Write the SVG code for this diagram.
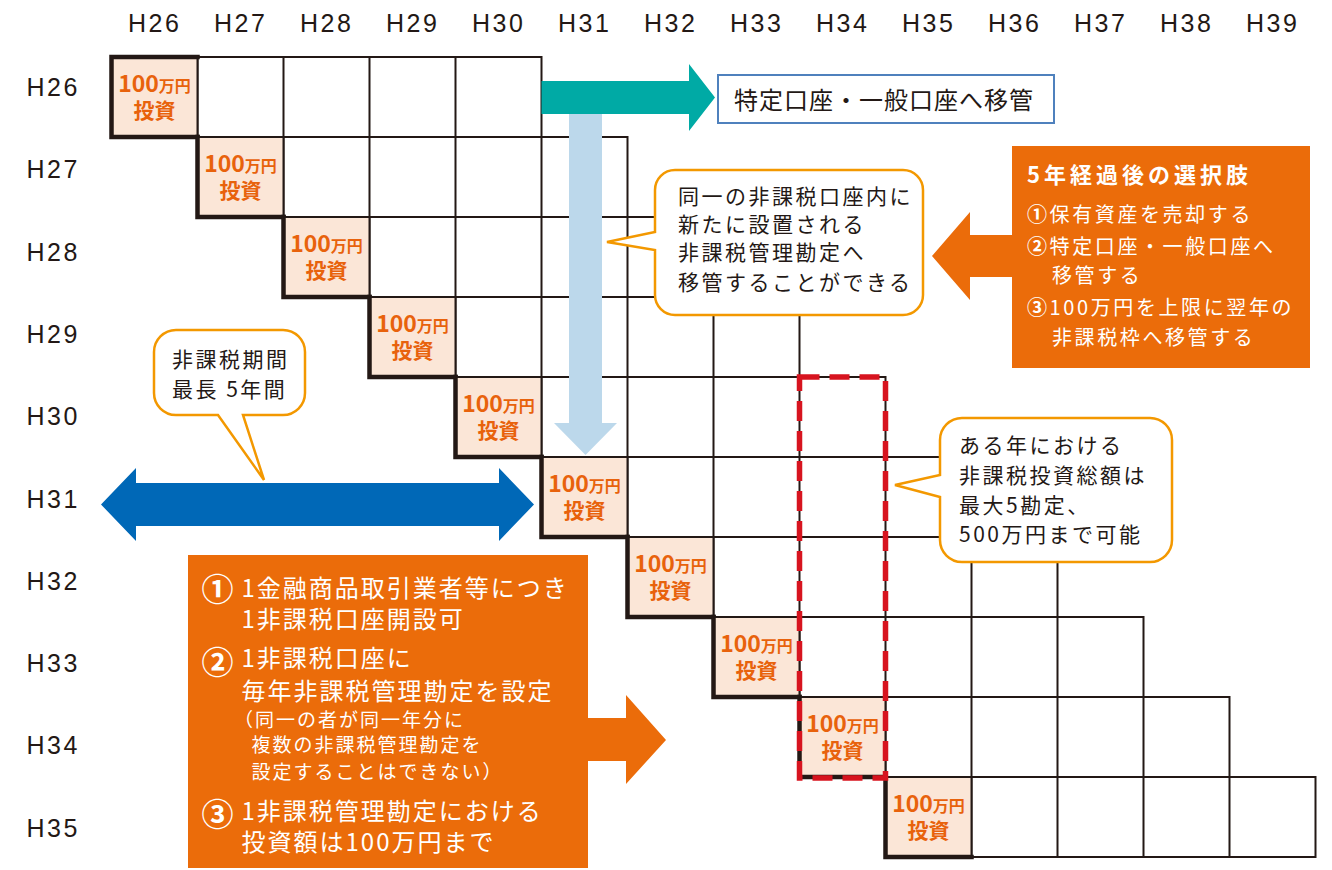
<svg xmlns="http://www.w3.org/2000/svg" width="1332" height="870" viewBox="0 0 1332 870">
<style>
.lbl{font-family:"Liberation Sans",Arial,sans-serif;font-size:25px;fill:#231815;letter-spacing:2.5px}
.row{fill:none;stroke:#231815;stroke-width:2}
.inv{fill:#fbe6d7;stroke:#231815;stroke-width:2}
.thick{fill:none;stroke:#231815;stroke-width:4.5;stroke-linecap:square}
.ct{font-family:"Noto Sans CJK JP","Noto Sans",sans-serif;font-weight:700;fill:#e8620c;text-anchor:middle}
.bub{fill:#fff;stroke:#f39800;stroke-width:2.5}
.bt{font-family:"Noto Sans CJK JP",sans-serif;font-size:21px;fill:#231815;letter-spacing:2.5px}
.wt{font-family:"Noto Sans CJK JP",sans-serif;fill:#fff}
.num{font-weight:700}
.org{fill:#eb6c0a}
</style>
<rect width="1332" height="870" fill="#fff"/>
<g id="col-labels" class="lbl">
<text x="128" y="32">H26</text><text x="214" y="32">H27</text><text x="300" y="32">H28</text><text x="386" y="32">H29</text><text x="472" y="32">H30</text><text x="558" y="32">H31</text><text x="644" y="32">H32</text><text x="730" y="32">H33</text><text x="816" y="32">H34</text><text x="902" y="32">H35</text><text x="988" y="32">H36</text><text x="1074" y="32">H37</text><text x="1160" y="32">H38</text><text x="1246" y="32">H39</text>
</g>
<g id="row-labels" class="lbl">
<text x="26.5" y="96">H26</text><text x="26.5" y="178">H27</text><text x="26.5" y="261">H28</text><text x="26.5" y="343">H29</text><text x="26.5" y="425">H30</text><text x="26.5" y="508">H31</text><text x="26.5" y="590">H32</text><text x="26.5" y="672">H33</text><text x="26.5" y="754">H34</text><text x="26.5" y="837">H35</text>
</g>
<g id="grid">
<path class="row" d="M111.5,57h430v80h-430zM197.5,57v80m86,-80v80m86,-80v80m86,-80v80"/>
<path class="row" d="M197.5,137h430v80h-430zM283.5,137v80m86,-80v80m86,-80v80m86,-80v80"/>
<path class="row" d="M283.5,217h430v80h-430zM369.5,217v80m86,-80v80m86,-80v80m86,-80v80"/>
<path class="row" d="M369.5,297h430v80h-430zM455.5,297v80m86,-80v80m86,-80v80m86,-80v80"/>
<path class="row" d="M455.5,377h430v80h-430zM541.5,377v80m86,-80v80m86,-80v80m86,-80v80"/>
<path class="row" d="M541.5,457h430v80h-430zM627.5,457v80m86,-80v80m86,-80v80m86,-80v80"/>
<path class="row" d="M627.5,537h430v80h-430zM713.5,537v80m86,-80v80m86,-80v80m86,-80v80"/>
<path class="row" d="M713.5,617h430v80h-430zM799.5,617v80m86,-80v80m86,-80v80m86,-80v80"/>
<path class="row" d="M799.5,697h430v80h-430zM885.5,697v80m86,-80v80m86,-80v80m86,-80v80"/>
<path class="row" d="M885.5,777h430v80h-430zM971.5,777v80m86,-80v80m86,-80v80m86,-80v80"/>
</g>
<g id="inv-h26"><rect class="inv" x="111.5" y="57" width="86" height="80"/><path class="thick" d="M111.5,57V137H197.5M111.5,57H197.5"/><text class="ct" x="154.5" y="92" font-size="16"><tspan font-size="23">100</tspan><tspan font-size="16">万円</tspan></text><text class="ct" x="154.5" y="118" font-size="21">投資</text></g>
<g id="inv-h27"><rect class="inv" x="197.5" y="137" width="86" height="80"/><path class="thick" d="M197.5,137V217H283.5"/><text class="ct" x="240.5" y="172" font-size="16"><tspan font-size="23">100</tspan><tspan font-size="16">万円</tspan></text><text class="ct" x="240.5" y="198" font-size="21">投資</text></g>
<g id="inv-h28"><rect class="inv" x="283.5" y="217" width="86" height="80"/><path class="thick" d="M283.5,217V297H369.5"/><text class="ct" x="326.5" y="252" font-size="16"><tspan font-size="23">100</tspan><tspan font-size="16">万円</tspan></text><text class="ct" x="326.5" y="278" font-size="21">投資</text></g>
<g id="inv-h29"><rect class="inv" x="369.5" y="297" width="86" height="80"/><path class="thick" d="M369.5,297V377H455.5"/><text class="ct" x="412.5" y="332" font-size="16"><tspan font-size="23">100</tspan><tspan font-size="16">万円</tspan></text><text class="ct" x="412.5" y="358" font-size="21">投資</text></g>
<g id="inv-h30"><rect class="inv" x="455.5" y="377" width="86" height="80"/><path class="thick" d="M455.5,377V457H541.5"/><text class="ct" x="498.5" y="412" font-size="16"><tspan font-size="23">100</tspan><tspan font-size="16">万円</tspan></text><text class="ct" x="498.5" y="438" font-size="21">投資</text></g>
<g id="inv-h31"><rect class="inv" x="541.5" y="457" width="86" height="80"/><path class="thick" d="M541.5,457V537H627.5"/><text class="ct" x="584.5" y="492" font-size="16"><tspan font-size="23">100</tspan><tspan font-size="16">万円</tspan></text><text class="ct" x="584.5" y="518" font-size="21">投資</text></g>
<g id="inv-h32"><rect class="inv" x="627.5" y="537" width="86" height="80"/><path class="thick" d="M627.5,537V617H713.5"/><text class="ct" x="670.5" y="572" font-size="16"><tspan font-size="23">100</tspan><tspan font-size="16">万円</tspan></text><text class="ct" x="670.5" y="598" font-size="21">投資</text></g>
<g id="inv-h33"><rect class="inv" x="713.5" y="617" width="86" height="80"/><path class="thick" d="M713.5,617V697H799.5"/><text class="ct" x="756.5" y="652" font-size="16"><tspan font-size="23">100</tspan><tspan font-size="16">万円</tspan></text><text class="ct" x="756.5" y="678" font-size="21">投資</text></g>
<g id="inv-h34"><rect class="inv" x="799.5" y="697" width="86" height="80"/><path class="thick" d="M799.5,697V777H885.5"/><text class="ct" x="842.5" y="732" font-size="16"><tspan font-size="23">100</tspan><tspan font-size="16">万円</tspan></text><text class="ct" x="842.5" y="758" font-size="21">投資</text></g>
<g id="inv-h35"><rect class="inv" x="885.5" y="777" width="86" height="80"/><path class="thick" d="M885.5,777V857H971.5"/><text class="ct" x="928.5" y="812" font-size="16"><tspan font-size="23">100</tspan><tspan font-size="16">万円</tspan></text><text class="ct" x="928.5" y="838" font-size="21">投資</text></g>
<g id="year-box"><rect x="799.5" y="377" width="86" height="401" fill="none" stroke="#d7141f" stroke-width="5.5" stroke-dasharray="20 10"/></g>
<g id="connectors">
<polygon id="transfer-arrow" fill="#00aaa5" points="541.5,81 689,81 689,64 715,97.5 689,131 689,114 541.5,114"/>
<polygon id="rollover-arrow" fill="#bcd8eb" points="569,114 602,114 602,423 617,423 585.5,455 554,423 569,423"/>
<polygon id="period-arrow" fill="#0068b7" points="101,504.5 136,468 136,483 499,483 499,468 534,504.5 499,541 499,526 136,526 136,541"/>
</g>
<g id="transfer-box"><rect x="718" y="75" width="336" height="48" fill="#fff" stroke="#4f81bd" stroke-width="2"/><text x="734" y="109" font-family="Noto Sans CJK JP, sans-serif" font-size="24" fill="#231815" letter-spacing="1">特定口座・一般口座へ移管</text></g>
<g id="bubble-rollover"><path class="bub" d="M675,170H903A20,20 0 0 1 923,190V295A20,20 0 0 1 903,315H675A20,20 0 0 1 655,295V250L607,242L655,232V190A20,20 0 0 1 675,170Z"/>
<text class="bt" x="678" y="204">同一の非課税口座内に</text><text class="bt" x="678" y="232">新たに設置される</text><text class="bt" x="678" y="260">非課税管理勘定へ</text><text class="bt" x="678" y="290">移管することができる</text></g>
<g id="bubble-period"><path class="bub" d="M176,330H283A22,22 0 0 1 305,352V393A22,22 0 0 1 283,415H243L264,480L218,415H176A22,22 0 0 1 154,393V352A22,22 0 0 1 176,330Z"/>
<text class="bt" x="172" y="367">非課税期間</text><text class="bt" x="172" y="397">最長 5年間</text></g>
<g id="bubble-annual"><path class="bub" d="M962,418H1150A22,22 0 0 1 1172,440V540A22,22 0 0 1 1150,562H962A22,22 0 0 1 940,540V497L895,485L940,475V440A22,22 0 0 1 962,418Z"/>
<text class="bt" x="959" y="453">ある年における</text><text class="bt" x="959" y="483">非課税投資総額は</text><text class="bt" x="959" y="513">最大5勘定、</text><text class="bt" x="959" y="542">500万円まで可能</text></g>
<g id="options-box"><polygon class="org" points="932,256 970,212 970,235 1012,235 1012,146 1310,146 1310,368 1012,368 1012,277 970,277 970,300"/>
<text class="wt" x="1027" y="183" font-size="22" font-weight="700" letter-spacing="4">5年経過後の選択肢</text>
<g font-size="20" letter-spacing="2.6"><text class="wt" x="1027" y="222"><tspan class="num">①</tspan>保有資産を売却する</text><text class="wt" x="1027" y="254"><tspan class="num">②</tspan>特定口座・一般口座へ</text><text class="wt" x="1052" y="283">移管する</text><text class="wt" x="1027" y="315"><tspan class="num">③</tspan>100万円を上限に翌年の</text><text class="wt" x="1052" y="345">非課税枠へ移管する</text></g></g>
<g id="rules-box"><polygon class="org" points="188,555 588,555 588,718 626,718 626,695 666,740 626,784 626,761 588,761 588,868 188,868"/>
<g font-size="32" font-weight="700" text-anchor="middle"><text class="wt" x="217.5" y="601">①</text><text class="wt" x="217.5" y="674">②</text><text class="wt" x="217.5" y="826">③</text></g>
<g font-size="24" letter-spacing="2"><text class="wt" x="241.5" y="597">1金融商品取引業者等につき</text><text class="wt" x="241.5" y="628">1非課税口座開設可</text><text class="wt" x="241.5" y="667">1非課税口座に</text><text class="wt" x="241.5" y="700">毎年非課税管理勘定を設定</text><text class="wt" x="241.5" y="820">1非課税管理勘定における</text><text class="wt" x="241.5" y="851">投資額は100万円まで</text></g>
<g font-size="19" letter-spacing="2"><text class="wt" x="234" y="727">（同一の者が同一年分に</text><text class="wt" x="251.5" y="752">複数の非課税管理勘定を</text><text class="wt" x="251.5" y="779">設定することはできない）</text></g></g>
</svg>
